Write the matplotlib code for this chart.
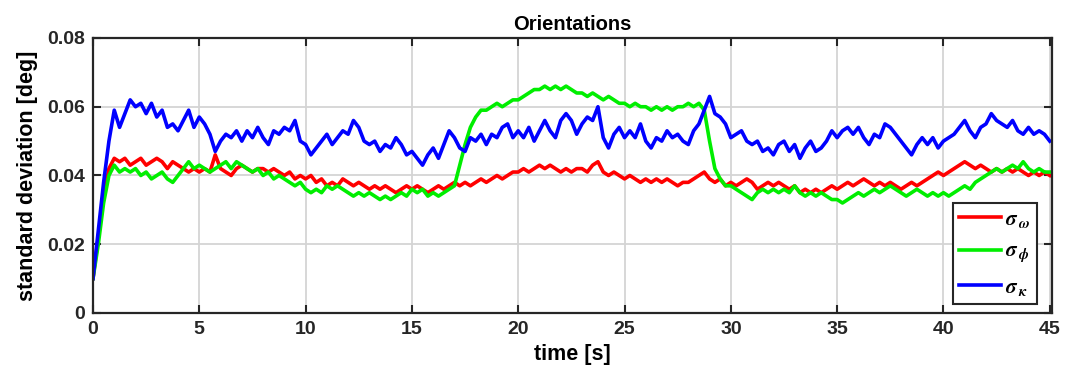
import numpy as np
import matplotlib
matplotlib.use("Agg")
import matplotlib.pyplot as plt

# time axis: samples every 0.25 s from 0 to 45 s
t_start, t_end, t_step = 0.0, 45.0, 0.25

sigma_omega = [
    0.010, 0.022, 0.034, 0.042, 0.045, 0.044, 0.045, 0.043, 0.044, 0.045, 0.043, 0.044, 0.045, 0.044, 0.042, 0.044, 0.043, 0.042, 0.041, 0.042,
    0.041, 0.042, 0.041, 0.046, 0.042, 0.041, 0.040, 0.042, 0.043, 0.042, 0.041, 0.042, 0.042, 0.041, 0.042, 0.041, 0.040, 0.041, 0.039, 0.040,
    0.039, 0.040, 0.038, 0.039, 0.037, 0.038, 0.037, 0.039, 0.038, 0.037, 0.038, 0.037, 0.036, 0.037, 0.036, 0.037, 0.036, 0.035, 0.036, 0.037,
    0.036, 0.037, 0.036, 0.035, 0.036, 0.037, 0.036, 0.037, 0.038, 0.037, 0.038, 0.037, 0.038, 0.039, 0.038, 0.039, 0.040, 0.039, 0.040, 0.041,
    0.041, 0.042, 0.041, 0.042, 0.043, 0.042, 0.043, 0.042, 0.041, 0.042, 0.041, 0.042, 0.042, 0.041, 0.043, 0.044, 0.041, 0.040, 0.041, 0.040,
    0.039, 0.040, 0.039, 0.038, 0.039, 0.038, 0.039, 0.038, 0.039, 0.038, 0.037, 0.038, 0.038, 0.039, 0.040, 0.041, 0.039, 0.038, 0.039, 0.037,
    0.038, 0.037, 0.038, 0.039, 0.038, 0.036, 0.037, 0.038, 0.037, 0.038, 0.037, 0.036, 0.037, 0.035, 0.036, 0.035, 0.036, 0.035, 0.036, 0.037,
    0.036, 0.037, 0.038, 0.037, 0.038, 0.039, 0.038, 0.037, 0.038, 0.037, 0.038, 0.037, 0.036, 0.037, 0.038, 0.037, 0.038, 0.039, 0.040, 0.041,
    0.040, 0.041, 0.042, 0.043, 0.044, 0.043, 0.042, 0.043, 0.042, 0.041, 0.042, 0.041, 0.042, 0.041, 0.042, 0.041, 0.040, 0.041, 0.040, 0.041,
    0.040,
]

sigma_phi = [
    0.010, 0.020, 0.032, 0.040, 0.043, 0.041, 0.042, 0.041, 0.042, 0.040, 0.041, 0.039, 0.040, 0.041, 0.039, 0.038, 0.040, 0.042, 0.044, 0.042,
    0.043, 0.042, 0.041, 0.042, 0.043, 0.044, 0.042, 0.044, 0.043, 0.042, 0.041, 0.042, 0.040, 0.041, 0.039, 0.040, 0.039, 0.038, 0.037, 0.038,
    0.036, 0.035, 0.036, 0.035, 0.037, 0.036, 0.037, 0.036, 0.035, 0.034, 0.035, 0.034, 0.035, 0.034, 0.033, 0.034, 0.033, 0.034, 0.035, 0.034,
    0.036, 0.035, 0.036, 0.034, 0.035, 0.034, 0.035, 0.036, 0.037, 0.043, 0.049, 0.054, 0.057, 0.059, 0.059, 0.060, 0.061, 0.060, 0.061, 0.062,
    0.062, 0.063, 0.064, 0.065, 0.065, 0.066, 0.065, 0.066, 0.065, 0.066, 0.065, 0.064, 0.064, 0.063, 0.064, 0.063, 0.062, 0.063, 0.062, 0.061,
    0.061, 0.060, 0.061, 0.060, 0.060, 0.059, 0.060, 0.059, 0.060, 0.059, 0.060, 0.060, 0.061, 0.060, 0.061, 0.059, 0.050, 0.042, 0.039, 0.037,
    0.037, 0.036, 0.035, 0.034, 0.033, 0.035, 0.036, 0.035, 0.036, 0.035, 0.036, 0.035, 0.037, 0.035, 0.034, 0.035, 0.034, 0.035, 0.034, 0.033,
    0.033, 0.032, 0.033, 0.034, 0.035, 0.034, 0.035, 0.036, 0.035, 0.036, 0.037, 0.036, 0.035, 0.034, 0.035, 0.036, 0.035, 0.034, 0.035, 0.034,
    0.035, 0.034, 0.035, 0.036, 0.037, 0.036, 0.038, 0.039, 0.040, 0.041, 0.042, 0.041, 0.042, 0.043, 0.042, 0.044, 0.042, 0.041, 0.042, 0.041,
    0.041,
]

sigma_kappa = [
    0.010, 0.024, 0.038, 0.050, 0.059, 0.054, 0.058, 0.062, 0.060, 0.061, 0.058, 0.061, 0.057, 0.059, 0.054, 0.055, 0.053, 0.056, 0.059, 0.054,
    0.057, 0.055, 0.052, 0.047, 0.050, 0.052, 0.051, 0.053, 0.050, 0.053, 0.051, 0.054, 0.051, 0.049, 0.053, 0.052, 0.054, 0.053, 0.056, 0.050,
    0.049, 0.046, 0.048, 0.050, 0.052, 0.049, 0.051, 0.053, 0.052, 0.056, 0.054, 0.050, 0.049, 0.050, 0.047, 0.049, 0.048, 0.051, 0.049, 0.046,
    0.047, 0.045, 0.043, 0.046, 0.048, 0.045, 0.049, 0.053, 0.051, 0.048, 0.047, 0.051, 0.050, 0.052, 0.049, 0.052, 0.051, 0.054, 0.055, 0.051,
    0.053, 0.051, 0.054, 0.050, 0.053, 0.056, 0.053, 0.051, 0.056, 0.058, 0.056, 0.052, 0.055, 0.057, 0.056, 0.060, 0.051, 0.048, 0.052, 0.054,
    0.051, 0.053, 0.051, 0.055, 0.050, 0.048, 0.051, 0.050, 0.053, 0.051, 0.052, 0.050, 0.049, 0.053, 0.055, 0.059, 0.063, 0.058, 0.057, 0.055,
    0.051, 0.052, 0.053, 0.050, 0.049, 0.050, 0.047, 0.048, 0.046, 0.049, 0.050, 0.047, 0.049, 0.045, 0.048, 0.050, 0.047, 0.048, 0.050, 0.053,
    0.051, 0.053, 0.054, 0.052, 0.054, 0.051, 0.049, 0.052, 0.051, 0.055, 0.054, 0.052, 0.050, 0.048, 0.046, 0.049, 0.051, 0.049, 0.051, 0.048,
    0.050, 0.051, 0.052, 0.054, 0.056, 0.053, 0.051, 0.054, 0.055, 0.058, 0.056, 0.055, 0.054, 0.056, 0.053, 0.052, 0.054, 0.052, 0.053, 0.052,
    0.050,
]

series_labels = [r'$\sigma_{\;\omega}$', r'$\sigma_{\;\phi}$', r'$\sigma_{\;\kappa}$']
series_colors = ['#ff0000', '#00ee00', '#0000ff']
x_ticks = [0, 5, 10, 15, 20, 25, 30, 35, 40, 45]
y_ticks = [0, 0.02, 0.04, 0.06, 0.08]
y_ticklabels = ['0', '0.02', '0.04', '0.06', '0.08']

plt.rcParams['font.family'] = ['Liberation Sans', 'DejaVu Sans']
plt.rcParams['font.weight'] = 'bold'
plt.rcParams['mathtext.fontset'] = 'stix'

n = len(sigma_kappa)
t = np.linspace(t_start, t_end, n)

fig = plt.figure(figsize=(10.75, 3.78), dpi=100)
ax = fig.add_axes([0.0865, 0.172, 0.892, 0.7275])

for vals, lab, col in zip([sigma_omega, sigma_phi, sigma_kappa], series_labels, series_colors):
    ax.plot(t, vals, color=col, lw=2.6, label=lab)

ax.set_xlim(0, 45.1)
ax.set_ylim(0, 0.08)
ax.set_xticks(x_ticks)
ax.set_yticks(y_ticks)
ax.set_yticklabels(y_ticklabels)
ax.grid(True, color='#d4d4d4', lw=1.3)
ax.set_axisbelow(True)
ax.tick_params(direction='in', top=True, right=True, length=6, width=1.5,
               labelsize=14, colors='#262626', pad=6)
for lab in ax.get_xticklabels() + ax.get_yticklabels():
    lab.set_fontweight('bold')
for s in ax.spines.values():
    s.set_linewidth(1.6)
    s.set_color('#262626')

ax.set_title('Orientations', fontsize=14.5, fontweight='bold', pad=6)
ax.set_xlabel('time [s]', fontsize=15.5, fontweight='bold', labelpad=4)
ax.set_ylabel('standard deviation [deg]', fontsize=15.5, fontweight='bold', labelpad=6)

leg = ax.legend(loc='lower right', bbox_to_anchor=(0.984, 0.033), borderaxespad=0,
                fancybox=False, framealpha=1, edgecolor='#262626', fontsize=15,
                handlelength=2.0, handletextpad=0.2, labelspacing=0.6,
                borderpad=0.3)
leg.get_frame().set_linewidth(1.5)

fig.savefig('out.png', dpi=100)
